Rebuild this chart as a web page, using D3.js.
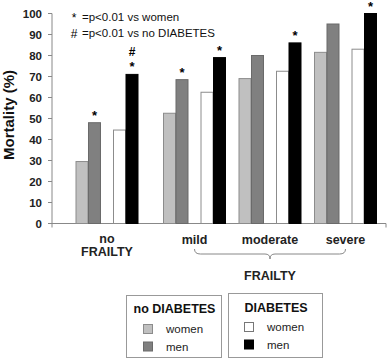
<!DOCTYPE html>
<html>
<head>
<meta charset="utf-8">
<style>
  body { margin: 0; background: #fff; }
  svg text { font-family: "Liberation Sans", Arial, sans-serif; }
</style>
</head>
<body>
<svg id="chart" width="387" height="358"></svg>
<script src="https://d3js.org/d3.v7.min.js"></script>
<script>
// ---- data ----
var groups = ["no FRAILTY", "mild", "moderate", "severe"];
var yTicks = [0, 10, 20, 30, 40, 50, 60, 70, 80, 90, 100];

var noDiabetesWomen = [29.5, 52.5, 69, 81.5];
var noDiabetesMen   = [48, 68.5, 80, 95];
var diabetesWomen   = [44.5, 62.5, 72.5, 83];
var diabetesMen     = [71, 79, 86, 100];

// * = p<0.01 vs women, # = p<0.01 vs no DIABETES
var starNoDiabetesMen = [true, true, false, false];
var starDiabetesMen   = [true, true, true, true];
var hashDiabetesMen   = [true, false, false, false];

var diabetesGroups = ["no DIABETES", "DIABETES"];
var sexes = ["women", "men"];

var series = [
  {dm: "no DIABETES", sex: "women", values: noDiabetesWomen, stars: null, hashes: null, fill: "#c0c0c0", stroke: "#8c8c8c"},
  {dm: "no DIABETES", sex: "men",   values: noDiabetesMen,   stars: starNoDiabetesMen, hashes: null, fill: "#808080", stroke: "#6a6a6a"},
  {dm: "DIABETES",    sex: "women", values: diabetesWomen,   stars: null, hashes: null, fill: "#ffffff", stroke: "#8c8c8c"},
  {dm: "DIABETES",    sex: "men",   values: diabetesMen,     stars: starDiabetesMen, hashes: hashDiabetesMen, fill: "#000000", stroke: "#000000"}
];

var svg = d3.select("#chart");

// ---- scales ----
var y = d3.scaleLinear().domain([0, 100]).range([223.5, 13.5]);
var xGroup = d3.scalePoint().domain(groups).range([107, 333.5]);
var frailtyShift = 12; // the three frailty groups sit a bit further right
function gx(g) { return xGroup(g) + (g === groups[0] ? 0 : frailtyShift); }
var xDm = d3.scaleBand().domain(diabetesGroups).range([-31, 31]).paddingInner(0.347);
var xSex = d3.scaleBand().domain(sexes).range([0, xDm.bandwidth()]).paddingInner(0.04);

// ---- axes ----
var axisX = 52;
svg.append("line").attr("x1", axisX).attr("x2", axisX)
  .attr("y1", y(100)).attr("y2", y(0)).attr("stroke", "#888").attr("stroke-width", 1);
svg.append("line").attr("x1", axisX).attr("x2", 386)
  .attr("y1", y(0)).attr("y2", y(0)).attr("stroke", "#888").attr("stroke-width", 1);
svg.selectAll(".xend").data([axisX, 386]).enter().append("line")
  .attr("x1", function(d){ return d; }).attr("x2", function(d){ return d; })
  .attr("y1", y(0)).attr("y2", y(0) + 4).attr("stroke", "#888");

svg.selectAll(".ytick").data(yTicks).enter().append("line")
  .attr("x1", axisX - 4).attr("x2", axisX)
  .attr("y1", function(d){ return y(d); }).attr("y2", function(d){ return y(d); })
  .attr("stroke", "#888");
svg.selectAll(".ylab").data(yTicks).enter().append("text")
  .attr("x", axisX - 10).attr("y", function(d){ return y(d) + 4; })
  .attr("text-anchor", "end").attr("font-size", "11.5px").attr("font-weight", "bold")
  .attr("fill", "#222").text(function(d){ return d; });

svg.append("text")
  .attr("transform", "translate(14,115) rotate(-90)")
  .attr("text-anchor", "middle").attr("font-size", "15px").attr("font-weight", "bold")
  .attr("fill", "#111").text("Mortality (%)");

// ---- bars ----
series.forEach(function(s) {
  var off = xDm(s.dm) + xSex(s.sex);
  svg.selectAll(null).data(s.values).enter().append("rect")
    .attr("x", function(d, i){ return gx(groups[i]) + off; })
    .attr("y", function(d){ return y(d); })
    .attr("width", xSex.bandwidth())
    .attr("height", function(d){ return y(0) - y(d); })
    .attr("fill", s.fill).attr("stroke", s.stroke).attr("stroke-width", 1);

  if (s.stars) {
    svg.selectAll(null).data(s.values).enter()
      .filter(function(d, i){ return s.stars[i]; })
      .append("text")
      .attr("x", function(d, i){ return gx(groups[s.values.indexOf(d)]) + off + xSex.bandwidth() / 2; })
      .attr("y", function(d){ return y(d) - 3; })
      .attr("text-anchor", "middle").attr("font-size", "13px").attr("font-weight", "bold")
      .text("*");
  }
  if (s.hashes) {
    svg.selectAll(null).data(s.values).enter()
      .filter(function(d, i){ return s.hashes[i]; })
      .append("text")
      .attr("x", function(d){ return gx(groups[s.values.indexOf(d)]) + off + xSex.bandwidth() / 2; })
      .attr("y", function(d){ return y(d) - 18; })
      .attr("text-anchor", "middle").attr("font-size", "12px").attr("font-weight", "bold")
      .text("#");
  }
});

// ---- significance note ----
var notes = [["*", "=p<0.01 vs women"], ["#", "=p<0.01 vs no DIABETES"]];
notes.forEach(function(n, i) {
  svg.append("text").attr("x", 74).attr("y", 22 + i * 16)
    .attr("text-anchor", "middle").attr("font-size", "12px").text(n[0]);
  svg.append("text").attr("x", 82).attr("y", 21 + i * 16)
    .attr("font-size", "11.5px").attr("fill", "#111").text(n[1]);
});

// ---- category labels ----
svg.append("text").attr("x", gx(groups[0])).attr("y", 243)
  .attr("text-anchor", "middle").attr("font-size", "12.5px").attr("font-weight", "bold")
  .attr("fill", "#222").text("no");
svg.append("text").attr("x", gx(groups[0])).attr("y", 256)
  .attr("text-anchor", "middle").attr("font-size", "12.5px").attr("font-weight", "bold")
  .attr("fill", "#222").text("FRAILTY");
svg.selectAll(".glab").data(groups.slice(1)).enter().append("text")
  .attr("x", function(d){ return gx(d); }).attr("y", 243.5)
  .attr("text-anchor", "middle").attr("font-size", "12.5px").attr("font-weight", "bold")
  .attr("fill", "#222").text(function(d){ return d; });

// brace under the frailty groups
var bx0 = gx(groups[1]), bx1 = gx(groups[3]), bm = (bx0 + bx1) / 2;
var by = 249;
svg.append("path")
  .attr("d", "M" + bx0 + "," + by +
    " Q" + bx0 + "," + (by + 5) + " " + (bx0 + 6) + "," + (by + 5) +
    " L" + (bm - 5) + "," + (by + 5) +
    " Q" + bm + "," + (by + 5) + " " + bm + "," + (by + 10) +
    " Q" + bm + "," + (by + 5) + " " + (bm + 5) + "," + (by + 5) +
    " L" + (bx1 - 6) + "," + (by + 5) +
    " Q" + bx1 + "," + (by + 5) + " " + bx1 + "," + by)
  .attr("fill", "none").attr("stroke", "#888").attr("stroke-width", 1);
svg.append("text").attr("x", bm).attr("y", 280)
  .attr("text-anchor", "middle").attr("font-size", "12.5px").attr("font-weight", "bold")
  .attr("fill", "#222").text("FRAILTY");

// ---- legends ----
var legendBoxes = [
  {dm: "no DIABETES", x: 126, y: 295, w: 95, h: 62, swX: 143, txtX: 166, titleY: 313, rowY: 329},
  {dm: "DIABETES",    x: 228, y: 293, w: 94, h: 64, swX: 244, txtX: 267, titleY: 311.5, rowY: 327}
];
legendBoxes.forEach(function(b) {
  svg.append("rect").attr("x", b.x + 0.5).attr("y", b.y + 0.5).attr("width", b.w).attr("height", b.h)
    .attr("fill", "#fff").attr("stroke", "#999").attr("stroke-width", 1);
  svg.append("text").attr("x", b.x + b.w / 2 + 1).attr("y", b.titleY)
    .attr("text-anchor", "middle").attr("font-size", "12.5px").attr("font-weight", "bold")
    .attr("fill", "#111").text(b.dm);
  var items = series.filter(function(s){ return s.dm === b.dm; });
  items.forEach(function(s, i) {
    var cy = b.rowY + i * 17.5;
    svg.append("rect").attr("x", b.swX + 0.5).attr("y", cy - 4.5).attr("width", 9).attr("height", 9)
      .attr("fill", s.fill).attr("stroke", s.dm === "DIABETES" && s.sex === "women" ? "#777" : s.stroke);
    svg.append("text").attr("x", b.txtX).attr("y", cy + 4)
      .attr("font-size", "11.5px").attr("fill", "#222").text(s.sex);
  });
});
</script>
</body>
</html>
